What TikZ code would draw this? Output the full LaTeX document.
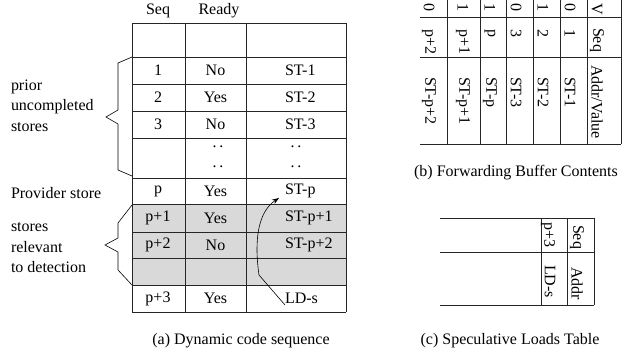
\documentclass[tikz,border=0pt]{standalone}
\usepackage{fontspec}
\setmainfont{Liberation Serif}
\usetikzlibrary{arrows.meta}
\begin{document}
\begin{tikzpicture}[x=1pt,y=-1pt,
  every node/.style={inner sep=0pt,outer sep=0pt,font=\fontsize{16}{19}\selectfont},
  grid/.style={line width=0.8pt,draw=black!85},
  rot/.style={rotate=-90,anchor=west},
  lbl/.style={anchor=west}]
\useasboundingbox (0,0) rectangle (625,354);
% ---------- (a) Dynamic code sequence ----------
\fill[black!15] (132,204) rectangle (346,285);
\foreach \y in {23,57,84,111,138,178,204,232,258,285,312}
  \draw[grid] (132,\y) -- (346,\y);
\foreach \x in {132,185,246,346}
  \draw[grid] (\x,23) -- (\x,312);
\node (hseq) at (158,11) {Seq};
\node (hready) at (219,11) {Ready};
\node (s1) at (158,70.5) {1};
\node (r1) at (215.5,70.5) {No};
\node[anchor=west] (v1) at (285,70.5) {ST-1};
\node (s2) at (158,97.5) {2};
\node (r2) at (215.5,97.5) {Yes};
\node[anchor=west] (v2) at (285,97.5) {ST-2};
\node (s3) at (158,124.5) {3};
\node (r3) at (215.5,124.5) {No};
\node[anchor=west] (v3) at (285,124.5) {ST-3};
\node (d1) at (218,147) {.\,.};
\node (d2) at (218,167) {.\,.};
\node (d3) at (296,147) {.\,.};
\node (d4) at (296,167) {.\,.};
\node (sp) at (158,191) {p};
\node (rp) at (215.5,191) {Yes};
\node[anchor=west] (vp) at (285,191) {ST-p};
\node (sp1) at (158,218) {p+1};
\node (rp1) at (215.5,218) {Yes};
\node[anchor=west] (vp1) at (285,218) {ST-p+1};
\node (sp2) at (158,245) {p+2};
\node (rp2) at (215.5,245) {No};
\node[anchor=west] (vp2) at (285,245) {ST-p+2};
\node (sp3) at (158,298.5) {p+3};
\node (rp3) at (215.5,298.5) {Yes};
\node[anchor=west] (ld) at (285,298.5) {LD-s};
\coordinate (ldstart) at (285,305);
\coordinate (sttip) at (279,198);
\draw[line width=0.6pt,-{Stealth[length=7pt,width=5pt]}] (ldstart) -- (259,275)
  .. controls (254,240) and (258,212) .. (sttip);
% braces
\draw[line width=0.6pt] (132,57) -- (118,63) -- (118,110) -- (106,117) -- (118,124) -- (118,170) -- (132,176);
\draw[line width=0.6pt] (132,205) -- (118,223) -- (118,238) -- (105,245) -- (118,252) -- (118,270) -- (132,285);
\node[lbl] (l1) at (11,87) {prior};
\node[lbl] (l2) at (11,107) {uncompleted};
\node[lbl] (l3) at (11,127) {stores};
\node[lbl] (l4) at (11,193) {Provider store};
\node[lbl] (l5) at (11,227) {stores};
\node[lbl] (l6) at (11,247) {relevant};
\node[lbl] (l7) at (11,267) {to detection};
\node (capa) at (241,341) {(a) Dynamic code sequence};
% ---------- (b) Forwarding Buffer Contents ----------
\foreach \y in {17,57,144}
  \draw[grid] (420,\y) -- (621,\y);
\foreach \x in {447,480,506,533,560,587,621}
  \draw[grid] (\x,0) -- (\x,144);
\node[rot] (bv0) at (429,3) {0};
\node[rot] (bs0) at (429,29) {p+2};
\node[rot] (ba0) at (429,77) {ST-p+2};
\node[rot] (bv1) at (463,3) {1};
\node[rot] (bs1) at (463,29) {p+1};
\node[rot] (ba1) at (463,77) {ST-p+1};
\node[rot] (bv2) at (490,3) {1};
\node[rot] (bs2) at (490,29) {p};
\node[rot] (ba2) at (490,77) {ST-p};
\node[rot] (bv3) at (516,3) {0};
\node[rot] (bs3) at (516,29) {3};
\node[rot] (ba3) at (516,77) {ST-3};
\node[rot] (bv4) at (543,3) {1};
\node[rot] (bs4) at (543,29) {2};
\node[rot] (ba4) at (543,77) {ST-2};
\node[rot] (bv5) at (570,3) {0};
\node[rot] (bs5) at (570,29) {1};
\node[rot] (ba5) at (570,77) {ST-1};
\node[rot] (bvh) at (597,3) {V};
\node[rot] (bsh) at (597,28) {Seq};
\node[rot] (bah) at (597,65) {Addr/Value};
\node (capb) at (516,173) {(b) Forwarding Buffer Contents};
% ---------- (c) Speculative Loads Table ----------
\foreach \y in {218,252,305}
  \draw[grid] (440,\y) -- (594,\y);
\foreach \x in {541,567,594}
  \draw[grid] (\x,218) -- (\x,305);
\node[rot] (cs) at (548,222) {p+3};
\node[rot] (ca) at (550,265) {LD-s};
\node[rot] (csh) at (577,225) {Seq};
\node[rot] (cah) at (577,267) {Addr};
\node (capc) at (510,341) {(c) Speculative Loads Table};
\end{tikzpicture}
\end{document}
